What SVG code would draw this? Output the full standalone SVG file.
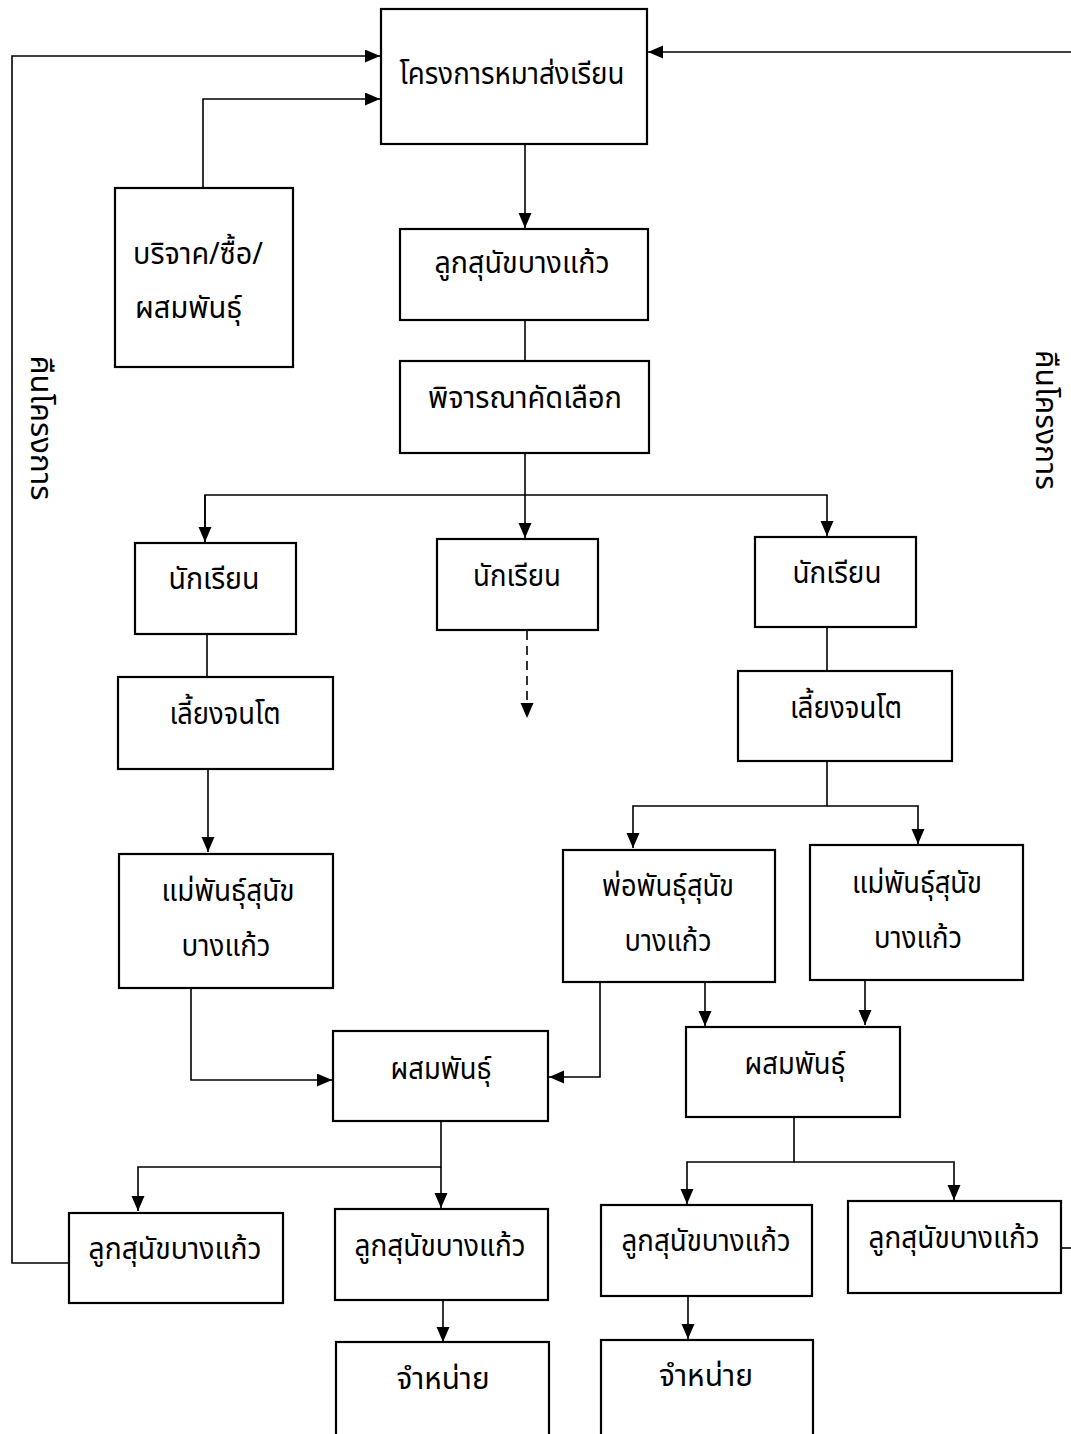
<svg xmlns="http://www.w3.org/2000/svg" width="1071" height="1434" viewBox="0 0 1071 1434">
<style>
.box{fill:#fff;stroke:#000;stroke-width:2.2}
.ln{fill:none;stroke:#000;stroke-width:1.6}
.dash{fill:none;stroke:#000;stroke-width:1.6;stroke-dasharray:9 6}
.t{font-family:"Noto Sans Thai","Noto Sans","DejaVu Sans",sans-serif;font-size:30px;fill:#000;text-anchor:middle}
.tl{font-family:"Noto Sans Thai","Noto Sans","DejaVu Sans",sans-serif;font-size:30px;fill:#000}
</style>
<defs>
<marker id="ar" markerUnits="userSpaceOnUse" markerWidth="16" markerHeight="14" refX="15" refY="6.5" orient="auto">
<path d="M0,0 L15,6.5 L0,13 z" fill="#000"/>
</marker>
</defs>
<rect width="1071" height="1434" fill="#fff"/>

<g id="connectors">
<path class="ln" d="M1071,52 H648" marker-end="url(#ar)"/>
<path class="ln" d="M69,1263 H12 V56 H380" marker-end="url(#ar)"/>
<path class="ln" d="M203,188 V99 H380" marker-end="url(#ar)"/>
<path class="ln" d="M1061,1248 H1071"/>
<path class="ln" d="M525,144 V228" marker-end="url(#ar)"/>
<path class="ln" d="M525,320 V361"/>
<path class="ln" d="M525,453 V494"/>
<path class="ln" d="M205,545 V495 H827 V536" marker-end="url(#ar)"/>
<path class="ln" d="M205,495 V542" marker-end="url(#ar)"/>
<path class="ln" d="M525,494 V538" marker-end="url(#ar)"/>
<path class="dash" d="M527,631 V718" marker-end="url(#ar)"/>
<path class="ln" d="M207,634 V677"/>
<path class="ln" d="M827,627 V671"/>
<path class="ln" d="M208,769 V852" marker-end="url(#ar)"/>
<path class="ln" d="M827,761 V806 H633 V848" marker-end="url(#ar)"/>
<path class="ln" d="M827,806 H918 V844" marker-end="url(#ar)"/>
<path class="ln" d="M191,988 V1080 H332" marker-end="url(#ar)"/>
<path class="ln" d="M600,982 V1077 H549" marker-end="url(#ar)"/>
<path class="ln" d="M705,982 V1026" marker-end="url(#ar)"/>
<path class="ln" d="M865,980 V1025" marker-end="url(#ar)"/>
<path class="ln" d="M441,1121 V1167 H138 V1211" marker-end="url(#ar)"/>
<path class="ln" d="M441,1167 V1208" marker-end="url(#ar)"/>
<path class="ln" d="M794,1117 V1162 H687 V1204" marker-end="url(#ar)"/>
<path class="ln" d="M794,1162 H954 V1200" marker-end="url(#ar)"/>
<path class="ln" d="M443,1300 V1342" marker-end="url(#ar)"/>
<path class="ln" d="M688,1296 V1339" marker-end="url(#ar)"/>
</g>

<g id="n-project"><rect class="box" x="381" y="9" width="266" height="135"/><text class="t" x="512" y="84" textLength="225" lengthAdjust="spacingAndGlyphs">โครงการหมาส่งเรียน</text></g>
<g id="n-donate"><rect class="box" x="115" y="188" width="178" height="179"/><text class="tl" x="133" y="264" textLength="130" lengthAdjust="spacingAndGlyphs">บริจาค/ซื้อ/</text><text class="tl" x="135" y="318" textLength="107" lengthAdjust="spacingAndGlyphs">ผสมพันธุ์</text></g>
<g id="n-puppy"><rect class="box" x="400" y="229" width="248" height="91"/><text class="t" x="522" y="273" textLength="175" lengthAdjust="spacingAndGlyphs">ลูกสุนัขบางแก้ว</text></g>
<g id="n-select"><rect class="box" x="400" y="361" width="249" height="92"/><text class="t" x="525" y="408" textLength="194" lengthAdjust="spacingAndGlyphs">พิจารณาคัดเลือก</text></g>

<g id="n-student-l"><rect class="box" x="135" y="543" width="161" height="91"/><text class="t" x="214" y="589" textLength="91" lengthAdjust="spacingAndGlyphs">นักเรียน</text></g>
<g id="n-student-m"><rect class="box" x="437" y="539" width="161" height="91"/><text class="t" x="517" y="586" textLength="88" lengthAdjust="spacingAndGlyphs">นักเรียน</text></g>
<g id="n-student-r"><rect class="box" x="755" y="537" width="161" height="90"/><text class="t" x="837" y="583" textLength="89" lengthAdjust="spacingAndGlyphs">นักเรียน</text></g>

<g id="n-raise-l"><rect class="box" x="118" y="677" width="215" height="92"/><text class="t" x="225" y="724" textLength="111" lengthAdjust="spacingAndGlyphs">เลี้ยงจนโต</text></g>
<g id="n-raise-r"><rect class="box" x="738" y="671" width="214" height="90"/><text class="t" x="846" y="718" textLength="112" lengthAdjust="spacingAndGlyphs">เลี้ยงจนโต</text></g>

<g id="n-dam-l"><rect class="box" x="119" y="854" width="214" height="134"/><text class="t" x="228" y="901" textLength="133" lengthAdjust="spacingAndGlyphs">แม่พันธุ์สุนัข</text><text class="t" x="226" y="956" textLength="89" lengthAdjust="spacingAndGlyphs">บางแก้ว</text></g>
<g id="n-sire"><rect class="box" x="563" y="850" width="212" height="132"/><text class="t" x="668" y="896" textLength="132" lengthAdjust="spacingAndGlyphs">พ่อพันธุ์สุนัข</text><text class="t" x="668" y="951" textLength="87" lengthAdjust="spacingAndGlyphs">บางแก้ว</text></g>
<g id="n-dam-r"><rect class="box" x="810" y="845" width="213" height="135"/><text class="t" x="917" y="893" textLength="130" lengthAdjust="spacingAndGlyphs">แม่พันธุ์สุนัข</text><text class="t" x="918" y="948" textLength="88" lengthAdjust="spacingAndGlyphs">บางแก้ว</text></g>

<g id="n-breed-l"><rect class="box" x="333" y="1031" width="215" height="90"/><text class="t" x="441" y="1079" textLength="101" lengthAdjust="spacingAndGlyphs">ผสมพันธุ์</text></g>
<g id="n-breed-r"><rect class="box" x="686" y="1027" width="214" height="90"/><text class="t" x="795" y="1074" textLength="101" lengthAdjust="spacingAndGlyphs">ผสมพันธุ์</text></g>

<g id="n-pup-1"><rect class="box" x="69" y="1213" width="214" height="90"/><text class="t" x="175" y="1259" textLength="173" lengthAdjust="spacingAndGlyphs">ลูกสุนัขบางแก้ว</text></g>
<g id="n-pup-2"><rect class="box" x="335" y="1209" width="213" height="91"/><text class="t" x="440" y="1256" textLength="171" lengthAdjust="spacingAndGlyphs">ลูกสุนัขบางแก้ว</text></g>
<g id="n-pup-3"><rect class="box" x="601" y="1205" width="211" height="91"/><text class="t" x="706" y="1251" textLength="169" lengthAdjust="spacingAndGlyphs">ลูกสุนัขบางแก้ว</text></g>
<g id="n-pup-4"><rect class="box" x="848" y="1201" width="213" height="92"/><text class="t" x="954" y="1248" textLength="171" lengthAdjust="spacingAndGlyphs">ลูกสุนัขบางแก้ว</text></g>

<g id="n-sell-1"><rect class="box" x="336" y="1342" width="213" height="100"/><text class="t" x="443" y="1389" textLength="93" lengthAdjust="spacingAndGlyphs">จำหน่าย</text></g>
<g id="n-sell-2"><rect class="box" x="601" y="1340" width="212" height="100"/><text class="t" x="706" y="1386" textLength="94" lengthAdjust="spacingAndGlyphs">จำหน่าย</text></g>

<g id="label-return-l"><text class="t" transform="translate(31,428) rotate(90)" textLength="145" lengthAdjust="spacingAndGlyphs">คืนโครงการ</text></g>
<g id="label-return-r"><text class="t" transform="translate(1036,420) rotate(90)" textLength="140" lengthAdjust="spacingAndGlyphs">คืนโครงการ</text></g>
</svg>
